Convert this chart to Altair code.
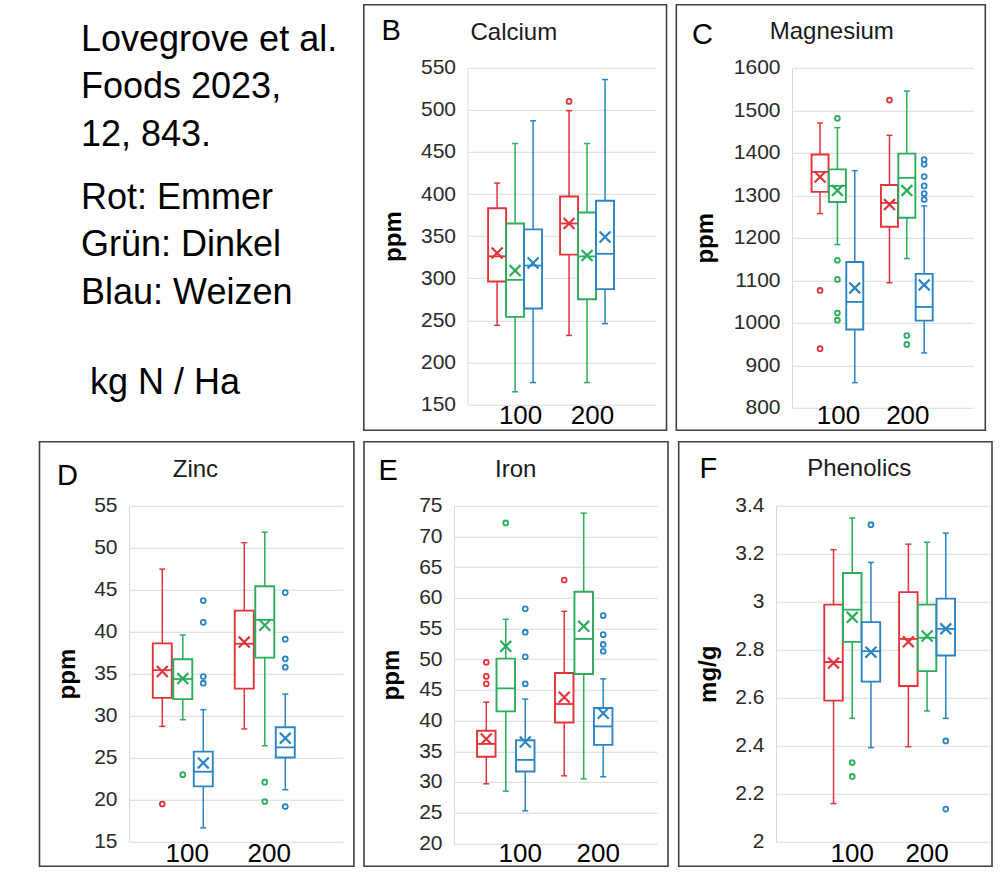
import json
import altair as alt
import pandas as pd

FONT = "Liberation Sans"
SERIES = ["Emmer", "Dinkel", "Weizen"]
SERIES_COLORS = ["#E2343A", "#2BAD5B", "#2B84C5"]
GROUPS = ["100", "200"]
BOX_SERIES = ["Emmer", "Dinkel", "Weizen", "Emmer", "Dinkel", "Weizen"]
BOX_GROUP = ["100", "100", "100", "200", "200", "200"]

info_lines = ["Lovegrove et al.", "Foods 2023,", "12, 843."]
legend_lines = ["Rot: Emmer", "Grün: Dinkel", "Blau: Weizen"]
unit_line = "kg N / Ha"

# each row: [whisker low, Q1, median, Q3, whisker high, mean]
calcium_stats = [
    [244, 296, 326, 383, 413, 330],
    [165, 254, 298, 365, 460, 309],
    [176, 264, 315, 358, 487, 318],
    [232, 328, 365, 397, 499, 365],
    [176, 275, 326, 378, 460, 327],
    [246, 287, 329, 392, 536, 349],
]
calcium_outliers = [("Emmer", "200", 510)]
calcium_ticks = [150, 200, 250, 300, 350, 400, 450, 500, 550]

magnesium_stats = [
    [1257, 1308, 1355, 1396, 1470, 1343],
    [1184, 1284, 1322, 1361, 1459, 1311],
    [859, 984, 1049, 1143, 1358, 1082],
    [1094, 1226, 1282, 1324, 1441, 1278],
    [1151, 1247, 1341, 1398, 1545, 1311],
    [929, 1005, 1037, 1115, 1275, 1089],
]
magnesium_outliers = [
    ("Emmer", "100", 1076), ("Emmer", "100", 939),
    ("Dinkel", "100", 1481), ("Dinkel", "100", 1147), ("Dinkel", "100", 1102),
    ("Dinkel", "100", 1023), ("Dinkel", "100", 1006),
    ("Emmer", "200", 1524),
    ("Dinkel", "200", 970), ("Dinkel", "200", 949),
    ("Weizen", "200", 1384), ("Weizen", "200", 1373), ("Weizen", "200", 1344),
    ("Weizen", "200", 1322), ("Weizen", "200", 1304), ("Weizen", "200", 1290),
]
magnesium_ticks = [800, 900, 1000, 1100, 1200, 1300, 1400, 1500, 1600]

zinc_stats = [
    [28.7, 32.1, 35.4, 38.6, 47.45, 35.25],
    [29.5, 31.95, 34.35, 36.7, 39.6, 34.4],
    [16.6, 21.55, 23.3, 25.7, 30.7, 24.35],
    [28.4, 33.2, 38.55, 42.5, 50.6, 38.75],
    [26.4, 36.9, 41.4, 45.4, 51.85, 40.75],
    [21.15, 25.0, 26.2, 28.6, 32.55, 27.3],
]
zinc_outliers = [
    ("Emmer", "100", 19.45),
    ("Dinkel", "100", 22.95),
    ("Weizen", "100", 43.7), ("Weizen", "100", 41.1), ("Weizen", "100", 34.65), ("Weizen", "100", 33.85),
    ("Dinkel", "200", 22.05), ("Dinkel", "200", 19.75),
    ("Weizen", "200", 44.65), ("Weizen", "200", 39.1), ("Weizen", "200", 36.75),
    ("Weizen", "200", 35.75), ("Weizen", "200", 19.15),
]
zinc_ticks = [15, 20, 25, 30, 35, 40, 45, 50, 55]

iron_stats = [
    [29.7, 34.1, 36.2, 38.35, 43.0, 37.0],
    [28.5, 41.5, 45.25, 50.1, 56.5, 52.1],
    [25.3, 31.7, 33.6, 36.8, 43.5, 36.5],
    [31.0, 39.7, 42.7, 47.75, 57.8, 43.8],
    [30.5, 47.6, 53.3, 61.0, 73.8, 55.35],
    [30.85, 36.05, 39.05, 42.05, 46.8, 41.2],
]
iron_outliers = [
    ("Emmer", "100", 49.5), ("Emmer", "100", 47.2), ("Emmer", "100", 46.0),
    ("Dinkel", "100", 72.2),
    ("Weizen", "100", 58.2), ("Weizen", "100", 54.4), ("Weizen", "100", 50.4), ("Weizen", "100", 46.0),
    ("Emmer", "200", 62.9),
    ("Weizen", "200", 57.1), ("Weizen", "200", 54.0), ("Weizen", "200", 52.4), ("Weizen", "200", 51.3),
]
iron_ticks = [20, 25, 30, 35, 40, 45, 50, 55, 60, 65, 70, 75]

phenolics_stats = [
    [2.159, 2.588, 2.749, 2.988, 3.217, 2.745],
    [2.514, 2.833, 2.967, 3.12, 3.349, 2.935],
    [2.392, 2.667, 2.794, 2.915, 3.164, 2.79],
    [2.396, 2.649, 2.845, 3.04, 3.24, 2.833],
    [2.545, 2.711, 2.85, 2.988, 3.248, 2.857],
    [2.514, 2.776, 2.887, 3.013, 3.286, 2.887],
]
phenolics_outliers = [
    ("Dinkel", "100", 2.33), ("Dinkel", "100", 2.272),
    ("Weizen", "100", 3.321),
    ("Weizen", "200", 2.42), ("Weizen", "200", 2.136),
]
phenolics_ticks = [2.0, 2.2, 2.4, 2.6, 2.8, 3.0, 3.2, 3.4]

# ---------------- layout / style (pixels) ----------------
GEO = {
    "B": dict(W=188, H=336.7, xdom=[0.408, 2.882], bx=[-103.7, 199], by=[-63, 362.5],
              lx=-86, ly=-27.5, tcx=46.3, tcy=-27.5, tx=-74, lpad=-2, loff=5, bw=18),
    "C": dict(W=181, H=340, xdom=[0.418, 2.881], bx=[-115.7, 193.3], by=[-63, 362.5],
              lx=-100, ly=-24.2, tcx=39.8, tcy=-29.2, tx=-87, lpad=-5.3, loff=0.5, bw=17),
    "D": dict(W=214, H=335.6, xdom=[0.405, 2.893], bx=[-89.5, 224.9], by=[-64, 360.5],
              lx=-72, ly=-21.2, tcx=66.4, tcy=-29.2, tx=-62, lpad=-1, loff=4, bw=19),
    "E": dict(W=203, H=337.6, xdom=[0.4, 2.876], bx=[-90, 214], by=[-64, 360.5],
              lx=-75.5, ly=-25.8, tcx=61.7, tcy=-29.2, tx=-63, lpad=-3, loff=14, bw=18.5),
    "F": dict(W=214, H=336, xdom=[0.048, 2.774], bx=[-97.3, 216], by=[-64, 360.5],
              lx=-76.5, ly=-27.5, tcx=83.2, tcy=-29.8, tx=-68, lpad=-1, loff=-0.5, bw=18.5),
}

XPATH = "M-1,-1L1,1M-1,1L1,-1"
ONE = pd.DataFrame({"k": [0]})
XCALC = "indexof(%s, datum.group) + 1 + (indexof(%s, datum.series) - 1) * 0.25" % (
    json.dumps(GROUPS), json.dumps(SERIES))


def make_panel(letter, title, ytitle, stats, outliers, ticks, fmt, g):
    box = pd.DataFrame(stats, columns=["low", "q1", "median", "q3", "high", "mean"])
    box["series"] = BOX_SERIES
    box["group"] = BOX_GROUP
    out = pd.DataFrame(outliers, columns=["series", "group", "value"])

    xs = alt.Scale(domain=g["xdom"], nice=False, zero=False)
    ys = alt.Scale(domain=[ticks[0], ticks[-1]], nice=False, zero=False)
    cs = alt.Scale(domain=SERIES, range=SERIES_COLORS)
    xaxis = alt.Axis(values=[1, 2],
                     labelExpr="datum.value == 1 ? '%s' : '%s'" % (GROUPS[0], GROUPS[1]),
                     domain=False, ticks=False, grid=False, labelFontSize=26,
                     labelColor="#000000", labelPadding=g["lpad"], labelOffset=g["loff"],
                     title=None)
    yaxis = alt.Axis(values=ticks, format=fmt, grid=True, gridColor="#d9d9d9", gridWidth=1,
                     domain=True, domainColor="#d9d9d9", ticks=False, labelPadding=12,
                     labelFontSize=21, labelColor="#2a2a2a", title=ytitle, titleFontSize=24,
                     titleFontWeight="bold", titleColor="#000000", titleX=g["tx"],
                     titleY=g["H"] / 2, titleAngle=270, titleBaseline="middle",
                     titleAlign="center")
    X = alt.X("xpos:Q", scale=xs, axis=xaxis)

    def Y(f):
        return alt.Y(f, type="quantitative", scale=ys, axis=yaxis)

    col = alt.Color("series:N", scale=cs, legend=None)
    base = alt.Chart(box).transform_calculate(xpos=XCALC)

    border = alt.Chart(ONE).mark_rect(fillOpacity=0, stroke="#404040", strokeWidth=1.6).encode(
        x=alt.value(g["bx"][0]), x2=alt.value(g["bx"][1]),
        y=alt.value(g["by"][0]), y2=alt.value(g["by"][1]))
    whisk = base.mark_rule(strokeWidth=1.5).encode(x=X, y=Y("low"), y2="high:Q", color=col)
    boxes = base.mark_bar(fill="white", strokeWidth=1.9, size=g["bw"]).encode(
        x=X, y=Y("q1"), y2="q3:Q", stroke=alt.Stroke("series:N", scale=cs, legend=None))
    med = base.mark_tick(orient="horizontal", size=g["bw"], thickness=1.8, opacity=1).encode(
        x=X, y=Y("median"), color=col)
    cap_lo = base.mark_tick(orient="horizontal", size=6, thickness=1.5, opacity=1).encode(
        x=X, y=Y("low"), color=col)
    cap_hi = base.mark_tick(orient="horizontal", size=6, thickness=1.5, opacity=1).encode(
        x=X, y=Y("high"), color=col)
    mean = base.mark_point(shape=XPATH, filled=False, size=120, strokeWidth=2.2, opacity=1).encode(
        x=X, y=Y("mean"), color=col)
    outl = alt.Chart(out).transform_calculate(xpos=XCALC).mark_point(
        shape="circle", filled=False, size=24, strokeWidth=1.8, opacity=1).encode(
        x=X, y=Y("value"), color=col)
    let = alt.Chart(ONE).mark_text(text=letter, fontSize=29, align="left",
                                   baseline="alphabetic", color="#000000").encode(
        x=alt.value(g["lx"]), y=alt.value(g["ly"]))
    tit = alt.Chart(ONE).mark_text(text=title, fontSize=24, align="center",
                                   baseline="alphabetic", color="#1a1a1a").encode(
        x=alt.value(g["tcx"]), y=alt.value(g["tcy"]))
    return alt.layer(border, whisk, boxes, med, cap_lo, cap_hi, mean, outl, let, tit).properties(
        width=g["W"], height=g["H"])


pB = make_panel("B", "Calcium", "ppm", calcium_stats, calcium_outliers, calcium_ticks, "d", GEO["B"])
pC = make_panel("C", "Magnesium", "ppm", magnesium_stats, magnesium_outliers, magnesium_ticks, "d", GEO["C"])
pD = make_panel("D", "Zinc", "ppm", zinc_stats, zinc_outliers, zinc_ticks, "d", GEO["D"])
pE = make_panel("E", "Iron", "ppm", iron_stats, iron_outliers, iron_ticks, "d", GEO["E"])
pF = make_panel("F", "Phenolics", "mg/g", phenolics_stats, phenolics_outliers, phenolics_ticks, "~g", GEO["F"])

t1 = alt.Chart(ONE).mark_text(text=info_lines, fontSize=36, lineHeight=47.5, align="left",
                              baseline="alphabetic", color="#000000").encode(
    x=alt.value(81), y=alt.value(-16.8))
t2 = alt.Chart(ONE).mark_text(text=legend_lines, fontSize=36, lineHeight=47.5, align="left",
                              baseline="alphabetic", color="#000000").encode(
    x=alt.value(81), y=alt.value(140.8))
t3 = alt.Chart(ONE).mark_text(text=unit_line, fontSize=36, align="left",
                              baseline="alphabetic", color="#000000").encode(
    x=alt.value(90), y=alt.value(325.8))
text_panel = alt.layer(t1, t2, t3).properties(width=355, height=300)

spacer = alt.Chart(ONE).mark_text(text="").encode(
    x=alt.value(0), y=alt.value(0)).properties(width=29.5, height=1)

row1 = alt.hconcat(text_panel, pB, pC, spacing=7.5)
row2 = alt.hconcat(spacer, pD, pE, pF, spacing=8)

chart = alt.vconcat(row1, row2, spacing=9).properties(
    padding={"left": 0, "top": 3.75, "right": 5, "bottom": 3}
).configure(font=FONT).configure_view(strokeWidth=0)

chart.save("out.html", embed_options={"renderer": "svg", "actions": False})
